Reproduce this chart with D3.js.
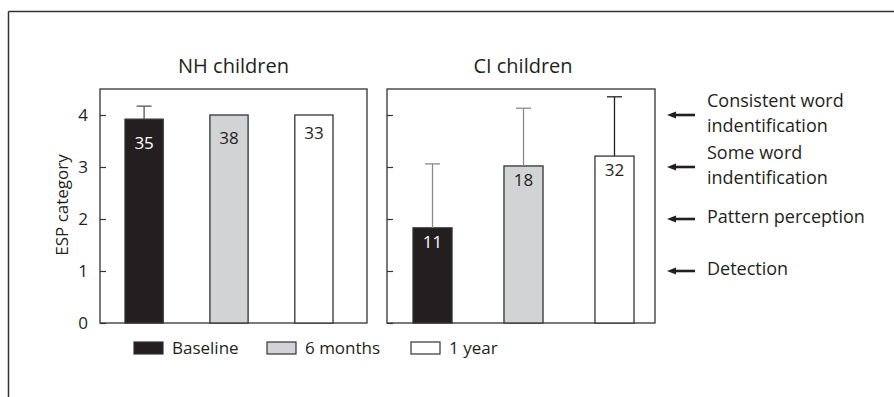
<!DOCTYPE html>
<html>
<head>
<meta charset="utf-8">
<script src="https://cdn.jsdelivr.net/npm/d3@7/dist/d3.min.js"></script>
<style>
  html, body { margin: 0; padding: 0; background: #fff; }
  svg { display: block; font-family: "Open Sans", "Noto Sans", sans-serif; }
</style>
</head>
<body>
<svg id="chart" width="894" height="397"></svg>
<script>
// Mean ESP category per group and time point, with SD and number of children
const timepoints = ["Baseline", "6 months", "1 year"];
const groups = ["NH children", "CI children"];
const nhMeans = [3.92, 4.0, 4.0];
const nhErrTop = [4.17, null, null];
const nhCounts = [35, 38, 33];
const ciMeans = [1.83, 3.02, 3.21];
const ciErrTop = [3.06, 4.13, 4.35];
const ciCounts = [11, 18, 32];
const yTicks = [0, 1, 2, 3, 4];
const espLevels = [
  { level: 4, lines: ["Consistent word", "indentification"] },
  { level: 3, lines: ["Some word", "indentification"] },
  { level: 2, lines: ["Pattern perception"] },
  { level: 1, lines: ["Detection"] }
];

const fills = ["#231f20", "#d1d3d4", "#ffffff"];
const errColors = [["#555555", null, null], ["#8a8a8a", "#8a8a8a", "#231f20"]];
const ink = "#231f20";
const labelDrop = [[24, 23, 18], [14, 14, 14]];

const svg = d3.select("#chart");

// Outer frame (top and left rules)
svg.append("line").attr("x1", 8.5).attr("x2", 894).attr("y1", 11.5).attr("y2", 11.5)
  .attr("stroke", "#333").attr("stroke-width", 1.5);
svg.append("line").attr("x1", 8.5).attr("x2", 8.5).attr("y1", 11.5).attr("y2", 397)
  .attr("stroke", "#333").attr("stroke-width", 1.5);

const y = d3.scaleLinear().domain([0, 4.5]).range([323, 89]);
const panels = [
  { name: groups[0], x0: 100, x1: 367, inset: [25, 34], pad: 0.55, means: nhMeans, err: nhErrTop, counts: nhCounts },
  { name: groups[1], x0: 387, x1: 655, inset: [26, 21], pad: 0.571, means: ciMeans, err: ciErrTop, counts: ciCounts }
];

panels.forEach((p, pi) => {
  const g = svg.append("g");
  const x = d3.scaleBand().domain(timepoints).range([p.x0 + p.inset[0], p.x1 - p.inset[1]])
    .paddingInner(p.pad).paddingOuter(0);

  // Panel frame
  g.append("rect").attr("x", p.x0).attr("y", y(4.5)).attr("width", p.x1 - p.x0)
    .attr("height", y(0) - y(4.5)).attr("fill", "none").attr("stroke", "#333").attr("stroke-width", 1.3);

  // Y axis with inward ticks
  const axis = d3.axisLeft(y).tickValues(yTicks).tickSizeInner(-6).tickSizeOuter(0).tickPadding(12)
    .tickFormat(pi === 0 ? d3.format("d") : () => "");
  const ag = g.append("g").attr("transform", `translate(${p.x0},0)`).call(axis);
  ag.select(".domain").remove();
  ag.selectAll(".tick line").attr("stroke", "#333").attr("stroke-width", 1.2);
  ag.selectAll(".tick text").attr("fill", ink).attr("font-size", 17)
    .attr("font-family", "'Open Sans', sans-serif");

  // Bars
  g.selectAll("rect.bar").data(timepoints).join("rect").attr("class", "bar")
    .attr("x", d => x(d)).attr("width", x.bandwidth())
    .attr("y", (d, i) => y(p.means[i])).attr("height", (d, i) => y(0) - y(p.means[i]))
    .attr("fill", (d, i) => fills[i]).attr("stroke", "#333").attr("stroke-width", 1.3);

  // Upper error bars
  timepoints.forEach((d, i) => {
    if (p.err[i] == null) return;
    const cx = x(d) + x.bandwidth() / 2;
    const c = errColors[pi][i];
    g.append("line").attr("x1", cx).attr("x2", cx).attr("y1", y(p.means[i])).attr("y2", y(p.err[i]))
      .attr("stroke", c).attr("stroke-width", 1.3);
    g.append("line").attr("x1", cx - 7.5).attr("x2", cx + 7.5).attr("y1", y(p.err[i])).attr("y2", y(p.err[i]))
      .attr("stroke", c).attr("stroke-width", 1.3);
  });

  // Number of children inside each bar
  g.selectAll("text.count").data(timepoints).join("text").attr("class", "count")
    .attr("x", d => x(d) + x.bandwidth() / 2)
    .attr("y", (d, i) => y(p.means[i]) + labelDrop[pi][i])
    .attr("dy", "0.35em").attr("text-anchor", "middle").attr("font-size", 17)
    .attr("fill", (d, i) => i === 0 ? "#ffffff" : ink)
    .text((d, i) => p.counts[i]);

  // Panel title
  g.append("text").attr("x", (p.x0 + p.x1) / 2 + (pi === 1 ? 2 : 0)).attr("y", 73)
    .attr("text-anchor", "middle").attr("font-size", 20).attr("fill", ink).text(p.name);
});

// Y axis title
svg.append("text").attr("transform", `translate(68,205) rotate(-90)`)
  .attr("text-anchor", "middle").attr("font-size", 17).attr("fill", ink).text("ESP category");

// ESP category descriptions with arrows
const ann = svg.append("g");
espLevels.forEach(e => {
  const yy = y(e.level);
  ann.append("line").attr("x1", 674).attr("x2", 695).attr("y1", yy).attr("y2", yy)
    .attr("stroke", ink).attr("stroke-width", 2.6);
  ann.append("path").attr("d", `M667,${yy} L676,${yy - 3.5} L676,${yy + 3.5} Z`).attr("fill", ink);
  const n = e.lines.length;
  e.lines.forEach((t, k) => {
    ann.append("text").attr("x", 707)
      .attr("y", yy - 2 + (k - (n - 1) / 2) * 24.5)
      .attr("dy", "0.35em").attr("font-size", 18).attr("fill", ink).text(t);
  });
});

// Legend
const legend = svg.append("g");
const legX = [134, 267, 411];
timepoints.forEach((t, i) => {
  legend.append("rect").attr("x", legX[i]).attr("y", 342).attr("width", 29).attr("height", 12)
    .attr("fill", fills[i]).attr("stroke", "#333").attr("stroke-width", 1.2);
  legend.append("text").attr("x", legX[i] + 38).attr("y", 348).attr("dy", "0.35em")
    .attr("font-size", 17).attr("fill", ink).text(t);
});
</script>
</body>
</html>
